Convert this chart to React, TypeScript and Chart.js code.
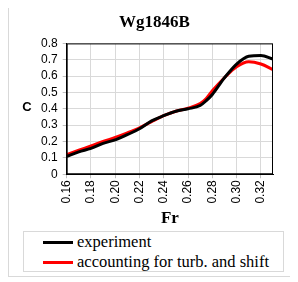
import React, { useEffect, useRef } from 'react';
import { Chart, registerables } from 'chart.js';
Chart.register(...registerables);

const chartTitle = 'Wg1846B';
const xTitle = 'Fr';
const yTitle = 'C';
const seriesNames = ['experiment', 'accounting for turb. and shift'];
const seriesColors = ['#000000', '#ff0000'];
const frValues = [0.16, 0.17, 0.18, 0.19, 0.2, 0.21, 0.22, 0.23, 0.24, 0.25, 0.26, 0.27, 0.275, 0.28, 0.29, 0.3, 0.31, 0.32, 0.33];
const experimentC = [0.109, 0.137, 0.158, 0.189, 0.21, 0.242, 0.278, 0.326, 0.358, 0.385, 0.4, 0.42, 0.45, 0.488, 0.59, 0.674, 0.722, 0.726, 0.705];
const turbShiftC = [0.12, 0.147, 0.173, 0.2, 0.225, 0.253, 0.284, 0.322, 0.358, 0.385, 0.404, 0.432, 0.463, 0.51, 0.59, 0.657, 0.688, 0.674, 0.64];
const xTickValues = [0.16, 0.18, 0.2, 0.22, 0.24, 0.26, 0.28, 0.3, 0.32];
const xMin = 0.16;
const xMax = 0.33;
const yMin = 0;
const yMax = 0.8;
const yStep = 0.1;

const SERIF = '"Liberation Serif", "Times New Roman", serif';
const SANS = '"Liberation Sans", Arial, sans-serif';

const plotDecor = {
  id: 'plotDecor',
  afterDraw(chart: any) {
    const { ctx, chartArea } = chart;
    ctx.save();
    ctx.strokeStyle = '#000';
    ctx.lineWidth = 1;
    ctx.strokeRect(chartArea.left + 0.5, chartArea.top + 0.5, chartArea.right - chartArea.left - 1, chartArea.bottom - chartArea.top - 1);
    ctx.fillStyle = '#000';
    ctx.font = 'bold 13px ' + SANS;
    ctx.textAlign = 'center';
    ctx.textBaseline = 'middle';
    const yScale = chart.scales.y;
    ctx.fillText(yTitle, yScale.left - 9, (chartArea.top + chartArea.bottom) / 2 - 1);
    ctx.restore();
  },
};

export default function App() {
  const ref = useRef<HTMLCanvasElement>(null);
  useEffect(() => {
    if (!ref.current) return;
    const series = [experimentC, turbShiftC];
    const chart = new Chart(ref.current, {
      type: 'line',
      data: {
        datasets: series.map((vals, i) => ({
          label: seriesNames[i],
          data: frValues.map((x, j) => ({ x, y: vals[j] })),
          borderColor: seriesColors[i],
          backgroundColor: seriesColors[i],
          borderWidth: 3,
          pointRadius: 0,
          cubicInterpolationMode: 'monotone' as const,
          fill: false,
        })),
      },
      options: {
        animation: false,
        responsive: false,
        layout: { padding: { left: 27, right: 21, top: 0, bottom: 0 } },
        plugins: {
          legend: { display: false },
          tooltip: { enabled: false },
          title: {
            display: true,
            text: chartTitle,
            color: '#000',
            font: { family: SERIF, size: 17, weight: 'bold' },
            padding: { top: 7, bottom: 11 },
          },
        },
        scales: {
          x: {
            type: 'linear',
            min: xMin,
            max: xMax,
            afterBuildTicks: (scale: any) => {
              scale.ticks = xTickValues.map((value) => ({ value }));
            },
            ticks: {
              autoSkip: false,
              minRotation: 90,
              maxRotation: 90,
              color: '#000',
              font: { family: SANS, size: 12 },
              padding: 2,
              callback: (v: any) => Number(v).toFixed(2),
            },
            grid: { color: '#d9d9d9', drawTicks: true, tickLength: 4, tickColor: '#bfbfbf' },
            border: { color: '#000' },
            title: {
              display: true,
              text: xTitle,
              color: '#000',
              font: { family: SERIF, size: 17, weight: 'bold' },
              padding: { top: 3, bottom: 0 },
            },
          },
          y: {
            min: yMin,
            max: yMax,
            ticks: {
              stepSize: yStep,
              autoSkip: false,
              color: '#000',
              font: { family: SANS, size: 12 },
              padding: 5,
            },
            grid: { color: '#d9d9d9', drawTicks: true, tickLength: 4, tickColor: '#bfbfbf' },
            border: { color: '#000' },
          },
        },
      },
      plugins: [plotDecor],
    } as any);
    return () => chart.destroy();
  }, []);

  return (
    <div
      style={{
        marginTop: -4,
        width: 285,
        height: 271,
        border: '1px solid #d9d9d9',
        position: 'relative',
        background: '#fff',
      }}
    >
      <canvas ref={ref} width={285} height={224} style={{ display: 'block' }} />
      <div
        style={{
          position: 'absolute',
          left: 14,
          top: 226,
          width: 259,
          height: 39,
          border: '1px solid #d9d9d9',
          fontFamily: SERIF,
          fontSize: 16.5,
          lineHeight: '20px',
          color: '#000',
        }}
      >
        {seriesNames.map((name, i) => (
          <div key={name} style={{ display: 'flex', alignItems: 'center', paddingLeft: 19, whiteSpace: 'nowrap', height: 20 }}>
            <span style={{ display: 'inline-block', width: 30, height: 3, background: seriesColors[i], marginRight: 4 }} />
            <span>{name}</span>
          </div>
        ))}
      </div>
    </div>
  );
}
